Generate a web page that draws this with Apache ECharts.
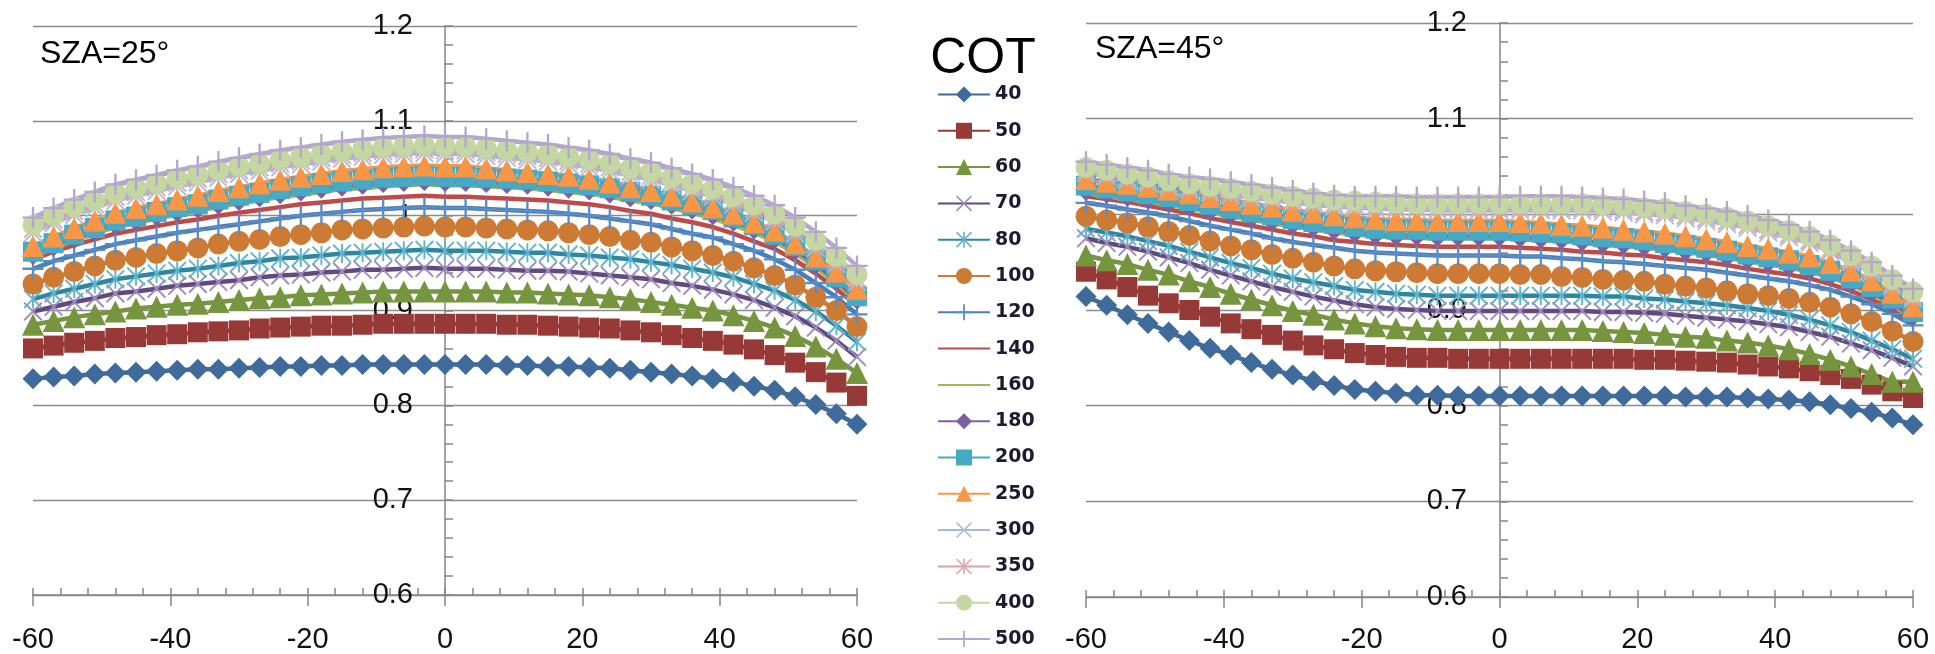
<!DOCTYPE html>
<html><head><meta charset="utf-8">
<script src="https://cdn.jsdelivr.net/npm/echarts@6/dist/echarts.min.js"></script>
<style>html,body{margin:0;padding:0;background:#fff}#c{width:1935px;height:654px}</style>
</head><body><div id="c"></div>
<script>
// ---------- data ----------
const angles = [-60,-57,-54,-51,-48,-45,-42,-39,-36,-33,-30,-27,-24,-21,-18,-15,-12,-9,-6,-3,0,3,6,9,12,15,18,21,24,27,30,33,36,39,42,45,48,51,54,57,60];
const cotLabels = ['40','50','60','70','80','100','120','140','160','180','200','250','300','350','400','500'];
const xTickLabels = ['-60','-40','-20','0','20','40','60'];
const panelTitles = ['SZA=25°','SZA=45°'];

// SZA = 25°
const sza25_40  = [0.828,0.830,0.831,0.833,0.834,0.835,0.836,0.837,0.838,0.838,0.839,0.840,0.841,0.841,0.842,0.842,0.843,0.843,0.843,0.843,0.843,0.843,0.843,0.842,0.842,0.841,0.841,0.840,0.839,0.837,0.835,0.833,0.831,0.828,0.825,0.820,0.816,0.809,0.801,0.791,0.780];
const sza25_50  = [0.860,0.863,0.866,0.868,0.871,0.872,0.874,0.875,0.877,0.878,0.879,0.881,0.882,0.883,0.884,0.884,0.885,0.886,0.886,0.886,0.886,0.886,0.886,0.885,0.885,0.884,0.883,0.882,0.881,0.879,0.877,0.874,0.871,0.868,0.864,0.859,0.853,0.845,0.835,0.824,0.810];
const sza25_60  = [0.885,0.889,0.893,0.896,0.899,0.902,0.904,0.906,0.907,0.909,0.911,0.913,0.914,0.916,0.917,0.918,0.919,0.920,0.920,0.920,0.920,0.920,0.920,0.919,0.919,0.918,0.917,0.916,0.914,0.912,0.909,0.906,0.903,0.900,0.895,0.889,0.882,0.873,0.862,0.849,0.834];
const sza25_70  = [0.899,0.904,0.909,0.913,0.918,0.920,0.923,0.926,0.928,0.930,0.932,0.935,0.937,0.938,0.940,0.941,0.943,0.943,0.944,0.945,0.944,0.944,0.944,0.943,0.942,0.942,0.941,0.939,0.937,0.935,0.933,0.929,0.926,0.922,0.917,0.911,0.903,0.894,0.882,0.868,0.851];
const sza25_80  = [0.912,0.918,0.923,0.928,0.933,0.936,0.939,0.942,0.944,0.947,0.950,0.952,0.955,0.956,0.958,0.960,0.961,0.962,0.963,0.964,0.963,0.963,0.963,0.962,0.961,0.961,0.959,0.958,0.956,0.954,0.951,0.948,0.944,0.940,0.935,0.928,0.921,0.911,0.899,0.884,0.867];
const sza25_100 = [0.928,0.935,0.941,0.947,0.953,0.956,0.960,0.963,0.966,0.970,0.973,0.975,0.978,0.980,0.982,0.985,0.986,0.987,0.988,0.989,0.988,0.988,0.987,0.986,0.985,0.984,0.982,0.980,0.978,0.974,0.972,0.967,0.963,0.958,0.952,0.945,0.937,0.927,0.914,0.900,0.883];
const sza25_120 = [0.944,0.952,0.958,0.964,0.970,0.974,0.978,0.982,0.985,0.988,0.991,0.994,0.997,1.000,1.002,1.004,1.006,1.007,1.008,1.009,1.008,1.008,1.007,1.006,1.005,1.004,1.002,1.000,0.997,0.994,0.991,0.986,0.981,0.977,0.970,0.963,0.954,0.943,0.929,0.914,0.896];
const sza25_140 = [0.954,0.962,0.969,0.975,0.981,0.985,0.989,0.993,0.996,1.000,1.003,1.006,1.009,1.012,1.014,1.016,1.018,1.019,1.020,1.021,1.020,1.020,1.019,1.018,1.017,1.016,1.014,1.012,1.009,1.005,1.002,0.997,0.993,0.988,0.981,0.973,0.965,0.953,0.939,0.923,0.905];
const sza25_160 = [0.957,0.966,0.974,0.981,0.988,0.992,0.997,1.001,1.005,1.009,1.013,1.016,1.020,1.022,1.025,1.028,1.029,1.031,1.032,1.033,1.032,1.032,1.031,1.030,1.029,1.027,1.025,1.023,1.020,1.016,1.013,1.008,1.003,0.997,0.990,0.982,0.973,0.960,0.946,0.929,0.909];
const sza25_180 = [0.959,0.968,0.976,0.984,0.991,0.995,1.000,1.004,1.008,1.012,1.016,1.020,1.023,1.026,1.029,1.031,1.033,1.035,1.036,1.037,1.036,1.036,1.035,1.034,1.033,1.031,1.029,1.027,1.024,1.020,1.017,1.012,1.007,1.001,0.994,0.986,0.976,0.964,0.949,0.932,0.912];
const sza25_200 = [0.962,0.971,0.980,0.987,0.995,0.999,1.004,1.009,1.012,1.017,1.021,1.024,1.028,1.031,1.034,1.036,1.038,1.040,1.041,1.042,1.041,1.041,1.040,1.039,1.038,1.036,1.034,1.032,1.029,1.025,1.021,1.016,1.011,1.006,0.998,0.990,0.980,0.968,0.953,0.935,0.915];
const sza25_250 = [0.968,0.978,0.987,0.995,1.003,1.008,1.012,1.017,1.021,1.026,1.030,1.034,1.038,1.041,1.044,1.047,1.049,1.051,1.052,1.053,1.052,1.052,1.050,1.048,1.046,1.044,1.042,1.039,1.035,1.030,1.026,1.021,1.015,1.009,1.002,0.993,0.984,0.971,0.957,0.941,0.923];
const sza25_300 = [0.982,0.992,1.001,1.008,1.016,1.021,1.026,1.031,1.035,1.040,1.044,1.047,1.051,1.054,1.057,1.060,1.062,1.064,1.065,1.066,1.065,1.065,1.063,1.061,1.059,1.057,1.054,1.051,1.047,1.042,1.038,1.032,1.026,1.020,1.012,1.003,0.994,0.981,0.966,0.949,0.930];
const sza25_350 = [0.986,0.996,1.005,1.012,1.020,1.025,1.030,1.035,1.039,1.044,1.048,1.051,1.055,1.058,1.061,1.064,1.066,1.068,1.069,1.070,1.069,1.069,1.067,1.065,1.063,1.061,1.058,1.055,1.051,1.046,1.042,1.036,1.030,1.024,1.016,1.007,0.998,0.985,0.970,0.953,0.934];
const sza25_400 = [0.990,1.000,1.009,1.016,1.024,1.029,1.034,1.039,1.043,1.048,1.052,1.055,1.059,1.062,1.065,1.068,1.070,1.072,1.073,1.074,1.073,1.073,1.071,1.069,1.067,1.065,1.062,1.059,1.055,1.050,1.046,1.040,1.034,1.028,1.020,1.011,1.002,0.989,0.974,0.957,0.938];
const sza25_500 = [0.998,1.008,1.017,1.025,1.033,1.038,1.043,1.048,1.052,1.057,1.061,1.065,1.069,1.072,1.075,1.078,1.080,1.082,1.083,1.084,1.083,1.083,1.081,1.079,1.077,1.075,1.072,1.069,1.065,1.060,1.056,1.050,1.044,1.038,1.030,1.021,1.011,0.998,0.983,0.966,0.947];

// SZA = 45°
const sza45_40  = [0.914,0.905,0.895,0.886,0.877,0.868,0.860,0.853,0.845,0.838,0.832,0.826,0.821,0.817,0.815,0.813,0.811,0.811,0.810,0.810,0.810,0.810,0.810,0.810,0.810,0.810,0.810,0.810,0.810,0.809,0.809,0.809,0.808,0.807,0.806,0.804,0.801,0.797,0.793,0.787,0.780];
const sza45_50  = [0.940,0.932,0.924,0.915,0.907,0.900,0.893,0.886,0.880,0.874,0.868,0.863,0.859,0.855,0.853,0.851,0.850,0.850,0.849,0.849,0.849,0.849,0.849,0.849,0.849,0.849,0.849,0.848,0.848,0.847,0.846,0.845,0.843,0.841,0.839,0.836,0.832,0.828,0.822,0.815,0.808];
const sza45_60  = [0.957,0.952,0.948,0.942,0.937,0.930,0.924,0.917,0.911,0.905,0.899,0.895,0.890,0.886,0.883,0.881,0.880,0.879,0.879,0.879,0.879,0.879,0.879,0.879,0.879,0.878,0.877,0.876,0.874,0.872,0.871,0.868,0.866,0.863,0.859,0.854,0.848,0.841,0.833,0.825,0.825];
const sza45_70  = [0.975,0.970,0.966,0.961,0.955,0.949,0.942,0.936,0.930,0.924,0.919,0.914,0.910,0.906,0.903,0.901,0.900,0.899,0.899,0.899,0.899,0.899,0.899,0.899,0.899,0.898,0.898,0.897,0.896,0.894,0.892,0.890,0.888,0.885,0.882,0.877,0.872,0.865,0.858,0.850,0.841];
const sza45_80  = [0.985,0.981,0.977,0.972,0.967,0.961,0.955,0.949,0.944,0.938,0.933,0.929,0.925,0.921,0.919,0.917,0.916,0.915,0.915,0.915,0.915,0.915,0.915,0.915,0.915,0.914,0.914,0.912,0.911,0.909,0.907,0.905,0.902,0.899,0.895,0.890,0.884,0.877,0.868,0.859,0.849];
const sza45_100 = [0.998,0.994,0.991,0.987,0.982,0.978,0.972,0.967,0.963,0.958,0.954,0.950,0.946,0.943,0.941,0.940,0.939,0.938,0.938,0.938,0.938,0.937,0.937,0.935,0.934,0.932,0.931,0.930,0.927,0.925,0.923,0.920,0.917,0.915,0.912,0.908,0.903,0.896,0.888,0.878,0.867];
const sza45_120 = [1.012,1.009,1.005,1.002,0.998,0.993,0.988,0.984,0.980,0.975,0.971,0.968,0.965,0.962,0.960,0.959,0.958,0.957,0.957,0.957,0.957,0.956,0.956,0.954,0.953,0.951,0.950,0.948,0.946,0.944,0.942,0.939,0.936,0.933,0.930,0.926,0.921,0.914,0.906,0.896,0.884];
const sza45_140 = [1.019,1.016,1.013,1.009,1.005,1.001,0.996,0.992,0.988,0.984,0.980,0.977,0.973,0.971,0.969,0.968,0.967,0.966,0.966,0.966,0.966,0.965,0.964,0.963,0.961,0.960,0.958,0.957,0.954,0.952,0.950,0.947,0.943,0.940,0.937,0.933,0.927,0.920,0.911,0.901,0.888];
const sza45_160 = [1.022,1.019,1.016,1.013,1.010,1.006,1.002,0.998,0.994,0.991,0.987,0.984,0.981,0.979,0.977,0.976,0.975,0.975,0.975,0.975,0.975,0.974,0.973,0.972,0.970,0.968,0.967,0.965,0.963,0.960,0.958,0.954,0.951,0.948,0.944,0.940,0.934,0.926,0.917,0.905,0.892];
const sza45_180 = [1.025,1.022,1.019,1.016,1.013,1.009,1.004,1.001,0.997,0.993,0.990,0.987,0.984,0.981,0.979,0.978,0.978,0.977,0.977,0.977,0.977,0.976,0.975,0.974,0.972,0.970,0.969,0.967,0.965,0.962,0.960,0.956,0.953,0.950,0.946,0.942,0.936,0.928,0.919,0.907,0.894];
const sza45_200 = [1.030,1.027,1.024,1.021,1.018,1.014,1.010,1.006,1.002,0.999,0.995,0.992,0.990,0.987,0.985,0.984,0.984,0.983,0.983,0.983,0.983,0.982,0.981,0.980,0.978,0.976,0.975,0.973,0.970,0.968,0.965,0.962,0.958,0.955,0.952,0.947,0.941,0.933,0.924,0.912,0.898];
const sza45_250 = [1.037,1.034,1.032,1.029,1.026,1.022,1.018,1.015,1.011,1.008,1.004,1.002,0.999,0.997,0.995,0.994,0.994,0.993,0.993,0.993,0.993,0.992,0.991,0.989,0.988,0.986,0.984,0.982,0.980,0.977,0.974,0.971,0.967,0.964,0.960,0.956,0.949,0.941,0.931,0.918,0.904];
const sza45_300 = [1.043,1.040,1.036,1.033,1.029,1.026,1.023,1.020,1.017,1.015,1.012,1.010,1.008,1.007,1.006,1.005,1.005,1.004,1.004,1.004,1.004,1.004,1.004,1.004,1.004,1.003,1.002,1.000,0.999,0.996,0.993,0.990,0.986,0.981,0.976,0.970,0.961,0.950,0.939,0.925,0.912];
const sza45_350 = [1.046,1.043,1.039,1.036,1.032,1.029,1.026,1.023,1.020,1.018,1.015,1.013,1.011,1.010,1.009,1.008,1.008,1.007,1.007,1.007,1.007,1.007,1.007,1.007,1.007,1.006,1.005,1.003,1.002,0.999,0.996,0.993,0.989,0.984,0.979,0.973,0.964,0.953,0.942,0.928,0.915];
const sza45_400 = [1.049,1.046,1.042,1.039,1.035,1.032,1.029,1.027,1.024,1.021,1.019,1.017,1.015,1.014,1.013,1.012,1.011,1.011,1.011,1.011,1.011,1.011,1.011,1.011,1.011,1.010,1.009,1.007,1.006,1.003,1.000,0.997,0.993,0.988,0.983,0.977,0.968,0.957,0.946,0.932,0.919];
const sza45_500 = [1.055,1.052,1.049,1.046,1.042,1.039,1.037,1.034,1.031,1.028,1.025,1.022,1.020,1.019,1.019,1.019,1.018,1.018,1.018,1.018,1.018,1.019,1.019,1.019,1.018,1.017,1.016,1.014,1.012,1.009,1.006,1.003,0.999,0.994,0.989,0.982,0.973,0.962,0.950,0.936,0.922];

const sza25 = [sza25_40,sza25_50,sza25_60,sza25_70,sza25_80,sza25_100,sza25_120,sza25_140,sza25_160,sza25_180,sza25_200,sza25_250,sza25_300,sza25_350,sza25_400,sza25_500];
const sza45 = [sza45_40,sza45_50,sza45_60,sza45_70,sza45_80,sza45_100,sza45_120,sza45_140,sza45_160,sza45_180,sza45_200,sza45_250,sza45_300,sza45_350,sza45_400,sza45_500];

// ---------- styles ----------
const X_MARK = 'path://M0,0.7 L0.7,0 L10,9.3 L9.3,10 Z M9.3,0 L10,0.7 L0.7,10 L0,9.3 Z';
const AST_MARK = 'path://M0,0.7 L0.7,0 L10,9.3 L9.3,10 Z M9.3,0 L10,0.7 L0.7,10 L0,9.3 Z M4.5,0 L5.5,0 L5.5,10 L4.5,10 Z';
const PLUS_MARK = 'path://M4.45,0 L5.55,0 L5.55,10 L4.45,10 Z M0,4.45 L10,4.45 L10,5.55 L0,5.55 Z';
const lineColors = ['#3F6A9C','#973A37','#76953F','#604A7E','#2F86A0','#CD7A35','#4A7EBB','#BE4B48','#98B954','#7D60A0','#46AAC5','#F79646','#A5B9DA','#D9A3A2','#C4D7A3','#B5A6CC'];
const markColors = ['#3F6A9C','#973A37','#76953F','#9D8BBE','#62B4CB','#CD7A35','#5A8CC8','#BE4B48','#98B954','#7D60A0','#46AAC5','#F79646','#A9BEDF','#E0A9A8','#C4D7A3','#B5A6CC'];
const symbols = ['diamond','rect','triangle',X_MARK,AST_MARK,'circle',PLUS_MARK,'none','none','diamond','rect','triangle',X_MARK,AST_MARK,'circle',PLUS_MARK];
const symSizes = [21,20,22,19,19,21,21,0,0,21,20,22,19,19,21,21];

const GRAY = '#868686';
const grids = [
  {left:33, top:26, width:824, height:571},
  {left:1086, top:23, width:827, height:576}
];
const yOffsets = [-412, -414];
const xAxes = [], yAxes = [], series = [];
grids.forEach((g, gi) => {
  xAxes.push({
    gridIndex: gi, type:'value', min:-60, max:60, interval:20, position:'bottom',
    axisLine:{onZero:false, lineStyle:{color:GRAY, width:1.5}},
    axisTick:{show:true, length:11, lineStyle:{color:GRAY, width:1.5}},
    axisLabel:{fontSize:29, fontFamily:'Liberation Sans', color:'#111', margin: gi===0?30:28,
      formatter: v => xTickLabels[Math.round((v+60)/20)]},
    splitLine:{show:false}
  });
  xAxes.push({
    gridIndex: gi, type:'value', min:-60, max:60, interval:4, position:'bottom',
    axisLine:{show:false, onZero:false},
    axisTick:{show:true, inside:true, length:7, lineStyle:{color:GRAY, width:1.5}},
    axisLabel:{show:false}, splitLine:{show:false}
  });
  yAxes.push({
    gridIndex: gi, type:'value', min:0.6, max:1.2, interval:0.1, position:'left', offset: yOffsets[gi],
    axisLine:{show:true, onZero:false, lineStyle:{color:GRAY, width:1.5}},
    axisTick:{show:true, inside:true, length:8, lineStyle:{color:GRAY, width:1.5}},
    minorTick:{show:true, splitNumber:5, length:8, lineStyle:{color:GRAY, width:1.5}},
    axisLabel:{fontSize:29, fontFamily:'Liberation Sans', color:'#111', margin: gi===0?32:33},
    splitLine:{show:true, lineStyle:{color:'#8c8c8c', width:1.3}}
  });
  const sets = gi===0 ? sza25 : sza45;
  cotLabels.forEach((name, si) => {
    series.push({
      type:'line', name, xAxisIndex: gi*2, yAxisIndex: gi,
      data: angles.map((a, i) => [a, sets[si][i]]),
      symbol: symbols[si], symbolSize: symSizes[si], showSymbol: symbols[si] !== 'none',
      lineStyle:{color: lineColors[si], width:4.5},
      itemStyle:{color: markColors[si]},
      emphasis:{disabled:true}, animation:false
    });
  });
});

// one legend block per COT entry, stacked at a fixed pitch
const legends = cotLabels.map((n, k) => ({
  orient:'vertical', left:937, top: 85 + 36.3 * k, padding:0,
  itemWidth:52, itemHeight:20, selectedMode:false,
  data: [(n==='140' || n==='160') ? {name:n, itemStyle:{opacity:0}} : n],
  textStyle:{fontFamily:'DejaVu Sans', fontSize:19, fontWeight:'bold', color:'#1c1c30'}
}));

const chart = echarts.init(document.getElementById('c'), null, {renderer:'canvas'});
chart.setOption({
  backgroundColor:'#fff',
  animation:false,
  grid: grids,
  xAxis: xAxes,
  yAxis: yAxes,
  series,
  legend: legends,
  graphic:[
    {type:'text', x:40, y:54, style:{text:panelTitles[0], font:'32px "Liberation Sans"', fill:'#000', verticalAlign:'middle'}},
    {type:'text', x:1095, y:49, style:{text:panelTitles[1], font:'32px "Liberation Sans"', fill:'#000', verticalAlign:'middle'}},
    {type:'text', x:983, y:59, style:{text:'COT', font:'50px "Liberation Sans"', fill:'#000', align:'center', verticalAlign:'middle'}}
  ]
});
</script></body></html>
